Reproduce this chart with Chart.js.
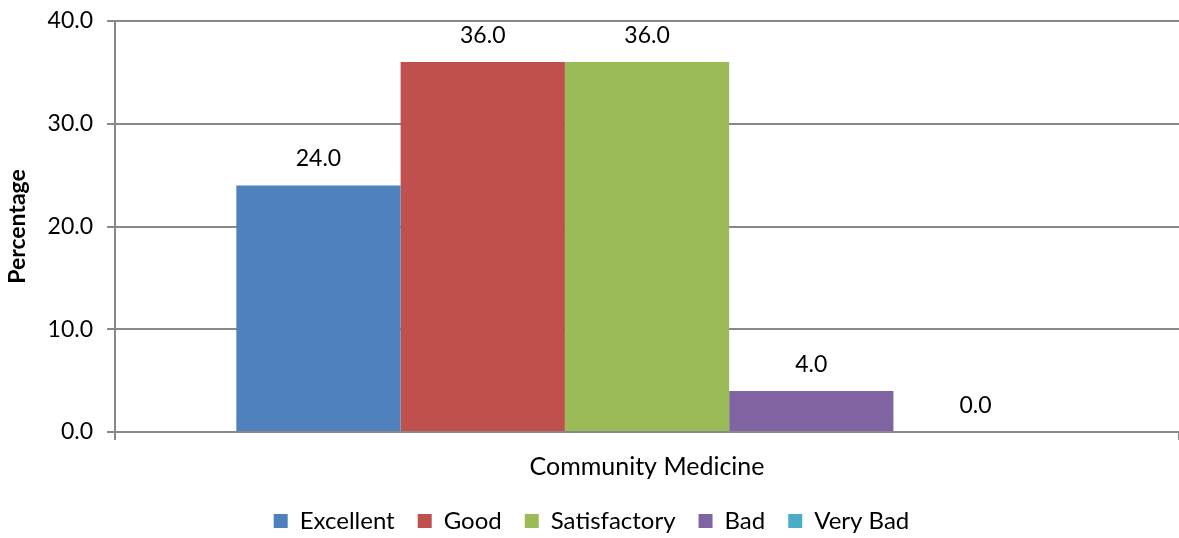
<!DOCTYPE html>
<html><head><meta charset="utf-8">
<script src="https://cdn.jsdelivr.net/npm/chart.js@4"></script>
<style>html,body{margin:0;padding:0;background:#fff;overflow:hidden}#wrap{width:1179px;height:543px}</style>
</head><body><div id="wrap"><canvas id="c"></canvas></div>
<script>
const categories = ["Community Medicine"];
const seriesNames = ["Excellent","Good","Satisfactory","Bad","Very Bad"];
const seriesValues = [[24.0],[36.0],[36.0],[4.0],[0.0]];
const seriesColors = ["#4F81BD","#C0504D","#9BBB59","#8064A2","#4BACC6"];
const yTicks = [0,10,20,30,40];

const FONT = "Lato, 'Open Sans', sans-serif";
const labelPlugin = {
  id:'vals',
  afterDatasetsDraw(chart){
    const ctx = chart.ctx;
    ctx.save();
    ctx.font = "23px " + FONT;
    ctx.fillStyle = "#000";
    ctx.textAlign = "center";
    ctx.textBaseline = "bottom";
    chart.data.datasets.forEach((ds,i)=>{
      const meta = chart.getDatasetMeta(i);
      meta.data.forEach((bar,j)=>{
        ctx.fillText(ds.data[j].toFixed(1), bar.x, bar.y - 15);
      });
    });
    ctx.restore();
  }
};

new Chart(document.getElementById('c'),{
  type:'bar',
  data:{
    labels:categories,
    datasets:seriesNames.map((n,i)=>({label:n,data:seriesValues[i],backgroundColor:seriesColors[i],borderWidth:0}))
  },
  options:{
    responsive:true, maintainAspectRatio:false, animation:false,
    layout:{padding:{top:0,right:0,left:4,bottom:0}},
    datasets:{bar:{categoryPercentage:0.772,barPercentage:1.0}},
    plugins:{
      legend:{position:'bottom',labels:{font:{family:FONT,size:24},color:'#000',boxWidth:14,boxHeight:14,padding:23,useBorderRadius:false}},
      tooltip:{enabled:false}
    },
    scales:{
      x:{
        grid:{display:true,drawOnChartArea:false,color:'#888',tickLength:8,lineWidth:2},
        border:{color:'#888',width:2},
        ticks:{font:{family:FONT,size:25},color:'#000',padding:12},
        afterFit(s){ s.height = 54; }
      },
      y:{
        min:0,max:40,
        afterBuildTicks(s){s.ticks = yTicks.map(v=>({value:v}));},
        afterFit(s){ s.paddingTop = 21; },
        grid:{color:'#888',lineWidth:2,tickLength:8},
        border:{color:'#888',width:2},
        ticks:{font:{family:FONT,size:23},color:'#000',padding:14,callback:v=>Number(v).toFixed(1)},
        title:{display:true,text:'Percentage',font:{family:FONT,size:23,weight:'bold'},color:'#000',padding:{top:0,bottom:2}}
      }
    }
  },
  plugins:[labelPlugin]
});
</script></body></html>
